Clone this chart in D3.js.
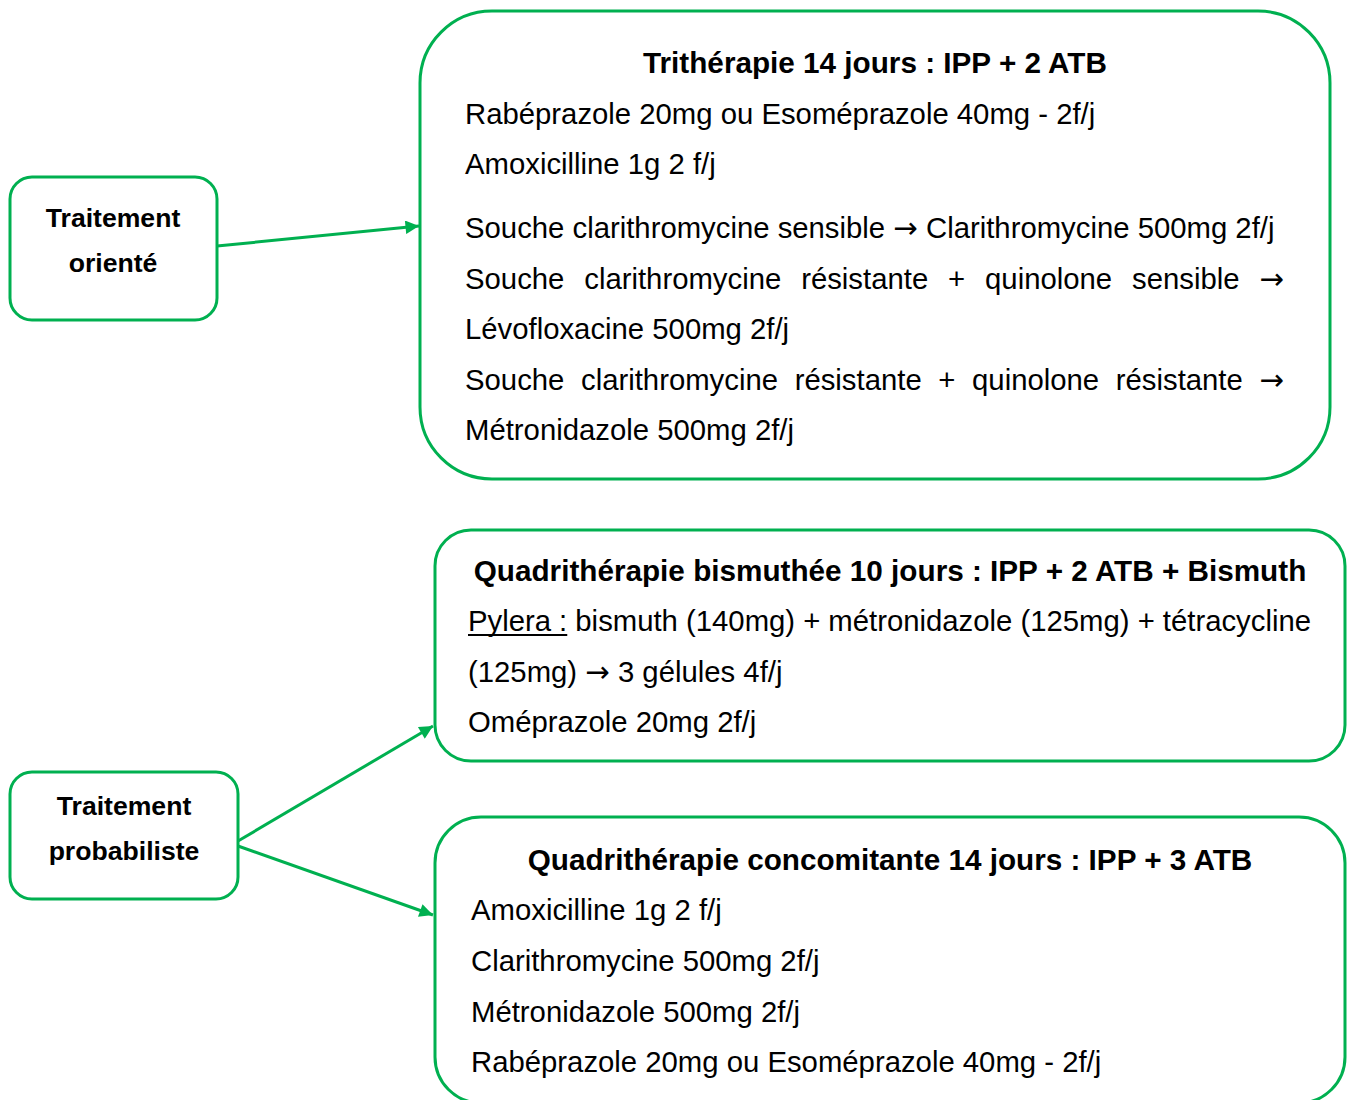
<!DOCTYPE html>
<html>
<head>
<meta charset="utf-8">
<script src="https://cdn.jsdelivr.net/npm/d3@7/dist/d3.min.js"></script>
<style>
  html, body { margin: 0; padding: 0; background: #fff; }
  svg { display: block; }
  text { font-family: "Liberation Sans", Arial, Helvetica, sans-serif; fill: #000; }
  .arr { font-family: "DejaVu Sans", sans-serif; }
</style>
</head>
<body>
<svg id="chart" width="1351" height="1100"></svg>
<script>
// ---------- data ----------
const orienteLabel = ["Traitement", "orienté"];
const probaLabel = ["Traitement", "probabiliste"];

const tritherapieTitle = "Trithérapie 14 jours : IPP + 2 ATB";
const tritherapieLines = [
  "Rabéprazole 20mg ou Esoméprazole 40mg - 2f/j",
  "Amoxicilline 1g 2 f/j",
  "Souche clarithromycine sensible → Clarithromycine 500mg 2f/j",
  "Souche clarithromycine résistante + quinolone sensible →",
  "Lévofloxacine 500mg 2f/j",
  "Souche clarithromycine résistante + quinolone résistante →",
  "Métronidazole 500mg 2f/j"
];

const bismuthTitle = "Quadrithérapie bismuthée 10 jours : IPP + 2 ATB + Bismuth";
const bismuthLines = [
  "Pylera : bismuth (140mg) + métronidazole (125mg) + tétracycline",
  "(125mg) → 3 gélules 4f/j",
  "Oméprazole 20mg 2f/j"
];
const underlinedPrefix = "Pylera :";

const concomitanteTitle = "Quadrithérapie concomitante 14 jours : IPP + 3 ATB";
const concomitanteLines = [
  "Amoxicilline 1g 2 f/j",
  "Clarithromycine 500mg 2f/j",
  "Métronidazole 500mg 2f/j",
  "Rabéprazole 20mg ou Esoméprazole 40mg - 2f/j"
];

const justifiedLines = [
  "Souche clarithromycine résistante + quinolone sensible →",
  "Souche clarithromycine résistante + quinolone résistante →",
  "Pylera : bismuth (140mg) + métronidazole (125mg) + tétracycline"
];

// ---------- drawing ----------
const GREEN = "#00b050";
const ARROW = "→";
const svg = d3.select("#chart");

const defs = svg.append("defs");
defs.append("marker")
  .attr("id", "arrow")
  .attr("viewBox", "0 0 10 10")
  .attr("refX", 10).attr("refY", 5)
  .attr("markerWidth", 5.5).attr("markerHeight", 4.5)
  .attr("markerUnits", "strokeWidth")
  .attr("orient", "auto")
  .append("path").attr("d", "M0,0 L10,5 L0,10 Z").attr("fill", GREEN);

function box(x, y, w, h, r) {
  svg.append("rect")
    .attr("x", x).attr("y", y).attr("width", w).attr("height", h)
    .attr("rx", r).attr("ry", r)
    .attr("fill", "#fff").attr("stroke", GREEN).attr("stroke-width", 3);
}
function arrow(x1, y1, x2, y2) {
  svg.append("line")
    .attr("x1", x1).attr("y1", y1).attr("x2", x2).attr("y2", y2)
    .attr("stroke", GREEN).attr("stroke-width", 3)
    .attr("marker-end", "url(#arrow)");
}

const BODY = 29.3;
const TITLE = 29.7;

// fill a text element, rendering the arrow glyph with a font that has a full-size arrow
function fillText(sel, str) {
  const parts = str.split(ARROW);
  parts.forEach((p, i) => {
    if (p) sel.append("tspan").text(p);
    if (i < parts.length - 1) sel.append("tspan").attr("class", "arr").text(ARROW);
  });
  return sel;
}

function textLine(str, x, baseline, opts = {}) {
  const size = opts.size || BODY;
  const weight = opts.bold ? "bold" : "normal";
  if (opts.center) {
    return fillText(svg.append("text").attr("x", x).attr("y", baseline)
      .attr("text-anchor", "middle")
      .style("font-size", size + "px").style("font-weight", weight), str);
  }
  if (opts.justifyTo && justifiedLines.includes(str)) {
    const words = str.split(" ");
    const g = svg.append("g");
    const nodes = words.map(w => fillText(g.append("text").attr("y", baseline)
      .style("font-size", size + "px").style("font-weight", weight), w));
    const widths = nodes.map(n => n.node().getComputedTextLength());
    const total = d3.sum(widths);
    const gap = (opts.justifyTo - x - total) / (words.length - 1);
    let cx = x;
    nodes.forEach((n, i) => { n.attr("x", cx); cx += widths[i] + gap; });
    return { nodes, widths, gap };
  }
  return fillText(svg.append("text").attr("x", x).attr("y", baseline)
    .style("font-size", size + "px").style("font-weight", weight), str);
}

// arrows
arrow(217, 246, 419, 226);
arrow(238, 841, 433, 726);
arrow(238, 846, 433, 915);

// side boxes
box(10, 177, 207, 143, 22);
orienteLabel.forEach((t, i) => textLine(t, 113, 227 + i * 45, { center: true, bold: true, size: 26.6 }));

box(10, 772, 228, 127, 22);
probaLabel.forEach((t, i) => textLine(t, 124, 815 + i * 45, { center: true, bold: true, size: 26.6 }));

// Trithérapie box
box(420, 11, 910, 468, 72);
textLine(tritherapieTitle, 875, 73, { center: true, bold: true, size: TITLE });
const triBaselines = [124, 174, 238, 289, 339, 390, 440];
tritherapieLines.forEach((t, i) => textLine(t, 465, triBaselines[i], { justifyTo: 1284 }));

// Bismuth box
box(435, 530, 910, 231, 36);
textLine(bismuthTitle, 890, 581, { center: true, bold: true, size: TITLE });
const bisBaselines = [631, 682, 732];
bismuthLines.forEach((t, i) => {
  const res = textLine(t, 468, bisBaselines[i], { justifyTo: 1311 });
  if (t.startsWith(underlinedPrefix) && res.nodes) {
    const x0 = 468;
    const x1 = 468 + res.widths[0] + res.gap + res.widths[1];
    svg.append("line").attr("x1", x0).attr("x2", x1)
      .attr("y1", bisBaselines[i] + 4).attr("y2", bisBaselines[i] + 4)
      .attr("stroke", "#000").attr("stroke-width", 2);
  }
});

// Concomitante box
box(435, 817, 910, 286, 46);
textLine(concomitanteTitle, 890, 870, { center: true, bold: true, size: TITLE });
const conBaselines = [920, 971, 1022, 1072];
concomitanteLines.forEach((t, i) => textLine(t, 471, conBaselines[i]));
</script>
</body>
</html>
